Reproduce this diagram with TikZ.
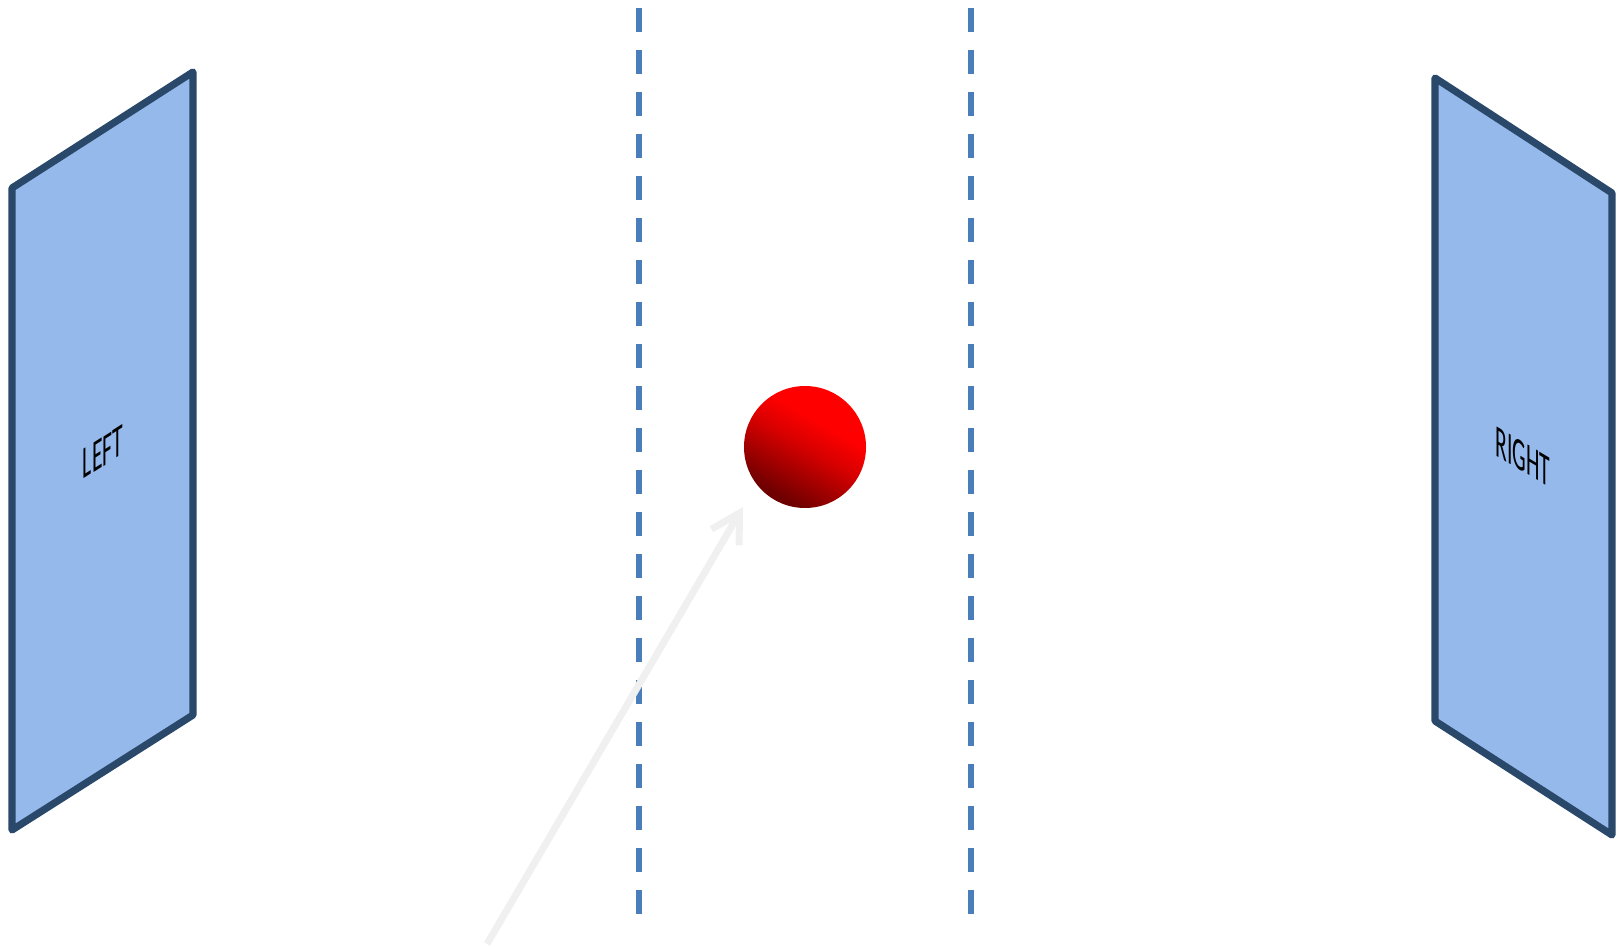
\documentclass[tikz,border=0pt]{standalone}
\usepackage{fontspec}
\setmainfont{Carlito}
\usetikzlibrary{arrows.meta}
\definecolor{panelfill}{RGB}{149,185,235}
\definecolor{paneledge}{RGB}{42,72,106}
\definecolor{guideblue}{RGB}{74,126,187}
\definecolor{arrowgray}{RGB}{240,240,240}
\definecolor{ballmid}{RGB}{215,0,0}
\definecolor{balldark}{RGB}{110,0,0}
\pgfdeclareverticalshading{redball}{100bp}{color(0bp)=(balldark); color(27bp)=(balldark); color(50bp)=(ballmid); color(62bp)=(red); color(100bp)=(red)}

\begin{document}
\begin{tikzpicture}[x=0.5pt, y=-0.5pt,
  panel/.style={fill=panelfill, draw=paneledge, line width=3.6pt, line join=round},
  guide/.style={guideblue, line width=3.2pt, dash pattern=on 12pt off 9pt},
  label/.style={font=\fontsize{23}{27}\selectfont, inner sep=0pt},
  ball/.style={circle, minimum size=61pt, inner sep=0pt, shading=redball, shading angle=-30}]
\useasboundingbox (0,0) rectangle (1617,947);
\foreach \x in {639,971} \draw[guide] (\x,8) -- (\x,914);
\draw[panel] (12,188) -- (193,72) -- (193,715) -- (12,830) -- cycle;
\draw[panel] (1435,78) -- (1612,193) -- (1612,835) -- (1435,721) -- cycle;
\node[label, cm={0.47,0.3,0,1,(0,0)}] (left) at (103,452) {LEFT};
\node[label, cm={0.47,-0.28,0,1,(0,0)}] (right) at (1523,457) {RIGHT};
\node[ball] (ball) at (805,447) {};
\coordinate (start) at (487,944);
\coordinate (tip) at (743,507);
\draw[arrowgray, line width=3.5pt, -{Straight Barb[length=14pt,width=16pt]}] (start) -- (tip);
\end{tikzpicture}
\end{document}
